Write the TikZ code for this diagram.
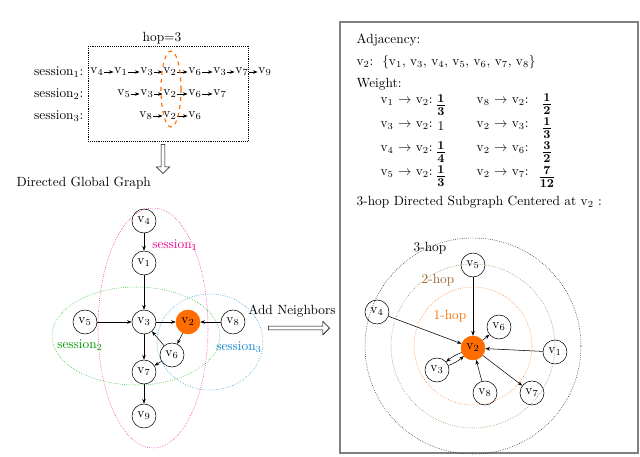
\documentclass[tikz,border=0pt]{standalone}
\usepackage{amsmath}
\usepackage{tikz}
\usetikzlibrary{positioning,arrows.meta,shapes.arrows}
\newcommand{\vx}[1]{$\mathrm{v}_{#1}$}
\begin{document}
\begin{tikzpicture}[x=0.75pt,y=-0.75pt,font=\fontsize{10}{11}\selectfont]

        % Define styles
        \tikzstyle{vtx} = [circle, draw, inner sep=0pt, minimum size=18pt]
        \tikzstyle{hub} = [vtx, fill=orange!85!red, draw=orange!85!red]
        \tikzstyle{seq} = [inner sep=0.5pt]
        \tikzstyle{frc} = [inner sep=0pt, font=\fontsize{13}{13}\selectfont]
        \tikzstyle{arr} = [-{Stealth[length=3.5pt]}, thin]
        \tikzstyle{fat} = [single arrow, draw, minimum height=22pt, single arrow head extend=3pt, minimum width=10pt, inner sep=1pt]
        \useasboundingbox (0,0) rectangle (640,457);

        % Sessions
        \node at (162,38) {hop=3};
        \draw[densely dotted] (88,46) rectangle (248,141);
        \node[anchor=east] (s1) at (88,72) {session$_1$:};
        \node[anchor=east] (s2) at (88,94) {session$_2$:};
        \node[anchor=east] (s3) at (88,116) {session$_3$:};
        \node[seq] (a1) at (97,72) {\vx4};
        \node[seq] (a2) at (121,72) {\vx1};
        \node[seq] (a3) at (147,72) {\vx3};
        \node[seq] (a4) at (170,72) {\vx2};
        \node[seq] (a5) at (195,72) {\vx6};
        \node[seq] (a6) at (220,72) {\vx3};
        \node[seq] (a7) at (242,72) {\vx7};
        \node[seq] (a8) at (265,72) {\vx9};
        \foreach \i/\j in {1/2,2/3,3/4,4/5,5/6,6/7,7/8}
            \draw[arr] (a\i) -- (a\j);
        \node[seq] (b1) at (124,94) {\vx5};
        \node[seq] (b2) at (147,94) {\vx3};
        \node[seq] (b3) at (170,94) {\vx2};
        \node[seq] (b4) at (195,94) {\vx6};
        \node[seq] (b5) at (220,94) {\vx7};
        \foreach \i/\j in {1/2,2/3,3/4,4/5}
            \draw[arr] (b\i) -- (b\j);
        \node[seq] (c1) at (146,116) {\vx8};
        \node[seq] (c2) at (170,116) {\vx2};
        \node[seq] (c3) at (195,116) {\vx6};
        \foreach \i/\j in {1/2,2/3}
            \draw[arr] (c\i) -- (c\j);
        \draw[dashed, thick, orange!80!red] (171,89) ellipse [x radius=10, y radius=38];

        % Down arrow
        \node[fat, shape border rotate=270] (down) at (163,158) {};
        \node[anchor=west] at (12,183) {Directed Global Graph};

        % Directed global graph
        \draw[densely dotted, magenta] (153,328) ellipse [x radius=55, y radius=120];
        \draw[densely dotted, green!70!black] (136,336) ellipse [x radius=84, y radius=49];
        \draw[densely dotted, cyan!70!blue] (210,342) ellipse [x radius=53, y radius=48];
        \node[magenta] at (175,245) {session$_1$};
        \node[green!60!black] at (80,345) {session$_2$};
        \node[cyan!70!blue] at (239,347) {session$_3$};
        \node[vtx] (g4) at (144,221) {\vx4};
        \node[vtx] (g1) at (144,263) {\vx1};
        \node[vtx] (g3) at (144,322) {\vx3};
        \node[hub] (g2) at (188,322) {\vx2};
        \node[vtx] (g8) at (233,322) {\vx8};
        \node[vtx] (g5) at (85,322) {\vx5};
        \node[vtx] (g6) at (172,355) {\vx6};
        \node[vtx] (g7) at (144,372) {\vx7};
        \node[vtx] (g9) at (144,416) {\vx9};
        \foreach \u/\w in {4/1,1/3,5/3,3/2,8/2,2/6,6/3,3/7,6/7,7/9}
            \draw[arr] (g\u) -- (g\w);

        % Add neighbors
        \node at (292,311) {Add Neighbors};
        \node[fat, minimum height=46pt] (right) at (298,328) {};

        % Right panel
        \draw[gray, thick] (340,22) rectangle (638,453);
        \node[anchor=west] at (352,40) {Adjacency:};
        \node[anchor=west] at (352,62) {\vx2:\ \ \{\vx1, \vx3, \vx4, \vx5, \vx6, \vx7, \vx8\}};
        \node[anchor=west] at (352,84) {Weight:};
        \node[anchor=west] at (376,102) {\vx1 $\to$ \vx2:};
        \node[anchor=west] at (376,126) {\vx3 $\to$ \vx2:};
        \node[anchor=west] at (376,150) {\vx4 $\to$ \vx2:};
        \node[anchor=west] at (376,174) {\vx5 $\to$ \vx2:};
        \node[frc] at (441,105) {$\boldsymbol{\frac{1}{3}}$};
        \node at (441,126) {1};
        \node[frc] at (441,152) {$\boldsymbol{\frac{1}{4}}$};
        \node[frc] at (441,176) {$\boldsymbol{\frac{1}{3}}$};
        \node[anchor=west] at (472,102) {\vx8 $\to$ \vx2:};
        \node[anchor=west] at (472,126) {\vx2 $\to$ \vx3:};
        \node[anchor=west] at (472,150) {\vx2 $\to$ \vx6:};
        \node[anchor=west] at (472,174) {\vx2 $\to$ \vx7:};
        \node[frc] at (547,104) {$\boldsymbol{\frac{1}{2}}$};
        \node[frc] at (547,128) {$\boldsymbol{\frac{1}{3}}$};
        \node[frc] at (547,152) {$\boldsymbol{\frac{3}{2}}$};
        \node[frc] at (547,177) {$\boldsymbol{\frac{7}{12}}$};
        \node[anchor=west] at (352,202) {3-hop Directed Subgraph Centered at \vx2 :};

        % Hop circles
        \draw[densely dotted] (473,346) circle [radius=108];
        \draw[densely dotted, brown!80!black] (473,346) circle [radius=82];
        \draw[densely dotted, orange!80!red] (473,346) circle [radius=59];
        \node at (430,248) {3-hop};
        \node[brown!80!black] at (438,280) {2-hop};
        \node[orange!85!red] at (450,316) {1-hop};

        % Subgraph
        \node[hub] (h2) at (473,348) {\vx2};
        \node[vtx] (h5) at (473,265) {\vx5};
        \node[vtx] (h4) at (377,312) {\vx4};
        \node[vtx] (h6) at (499,327) {\vx6};
        \node[vtx] (h1) at (555,352) {\vx1};
        \node[vtx] (h3) at (437,370) {\vx3};
        \node[vtx] (h8) at (485,393) {\vx8};
        \node[vtx] (h7) at (532,393) {\vx7};
        \foreach \u/\w in {5/2,4/2,2/6,1/2,8/2,2/7}
            \draw[arr] (h\u) -- (h\w);
        \draw[arr] (h2) to[bend right=10] (h3);
        \draw[arr] (h3) to[bend right=10] (h2);

    \end{tikzpicture}
\end{document}
